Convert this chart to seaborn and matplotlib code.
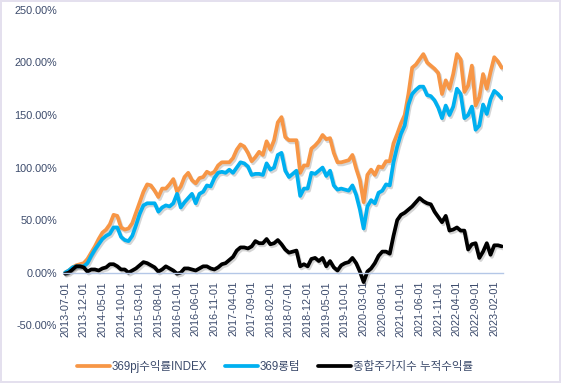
import matplotlib
matplotlib.use("Agg")
import matplotlib.pyplot as plt
import matplotlib.patheffects as pe
import seaborn as sns
import pandas as pd
import numpy as np

# monthly, 2013-07 .. 2023-04
dates = pd.date_range("2013-07-01", periods=118, freq="MS")

idx_369pj = [
    0, 2, 5, 7, 8, 9, 13, 19, 25, 32, 38, 41, 46, 55, 54, 43, 41, 42, 47, 57,
    67, 77, 84, 83, 78, 72, 80, 80, 84, 89, 77, 82, 91, 95, 88, 85, 90, 91, 96, 94,
    96, 102, 105, 105, 105, 109, 117, 122, 120, 114, 106, 110, 115, 112, 125, 117, 126, 143, 148, 129,
    126, 126, 126, 95, 102, 102, 118, 121, 125, 131, 127, 128, 114, 105, 105, 106, 107, 112, 99, 88,
    67, 93, 98, 93, 101, 100, 106, 106, 123, 132, 142, 150, 170, 195, 198, 203, 208, 200, 197, 194,
    190, 170, 183, 175, 189, 208, 203, 172, 178, 197, 159, 167, 189, 175, 191, 205, 201, 195,
]
longterm_369 = [
    0, 2, 5, 6, 6, 6, 9, 16, 22, 27, 32, 35, 37, 43, 43, 34, 31, 30, 35, 45,
    56, 64, 66, 66, 66, 58, 62, 64, 63, 66, 75, 62, 67, 71, 75, 66, 75, 77, 83, 82,
    90, 95, 96, 95, 98, 95, 100, 105, 104, 101, 93, 94, 94, 93, 104, 98, 100, 112, 114, 97,
    91, 94, 97, 73, 80, 80, 95, 94, 97, 100, 92, 97, 83, 79, 80, 79, 78, 83, 74, 60,
    42, 63, 69, 66, 76, 78, 84, 83, 105, 120, 132, 140, 160, 170, 174, 177, 177, 169, 168, 164,
    157, 147, 159, 150, 158, 175, 170, 147, 150, 158, 136, 140, 160, 151, 165, 173, 170, 166,
]
kospi_cum = [
    -1, 0, 3, 6, 6, 5, 1, 3, 3, 2, 4, 5, 8, 8, 6, 3, 3, 0, 2, 4,
    7, 10, 9, 7, 5, 1, 3, 6, 4, 2, -1, 0, 4, 4, 3, 2, 4, 6, 6, 4,
    3, 5, 8, 9, 12, 15, 21, 24, 24, 23, 25, 30, 28, 28, 32, 27, 28, 31, 27, 22,
    19, 20, 21, 6, 8, 6, 13, 14, 11, 14, 6, 11, 5, 2, 7, 9, 10, 14, 9, 1,
    -9, 1, 4, 9, 16, 20, 20, 18, 35, 50, 55, 57, 60, 63, 67, 71, 68, 66, 65, 58,
    53, 48, 54, 40, 41, 43, 40, 40, 22, 27, 28, 14, 20, 28, 17, 26, 26, 25,
]

series_names = ["369pj수익률INDEX", "369롱텀", "종합주가지수 누적수익률"]
series_colors = ["#F79646", "#00B0F0", "#000000"]
series_values = [idx_369pj, longterm_369, kospi_cum]

text_color = "#3B4A6B"
axis_color = "#B4C7E7"

sns.set_theme(style="white")
plt.rcParams["font.family"] = ["Liberation Sans", "Noto Sans CJK KR"]

df = pd.DataFrame({"t": np.arange(len(dates))})
for name, vals in zip(series_names, series_values):
    df[name] = vals
long_df = df.melt(id_vars="t", var_name="series", value_name="ret")

fig, ax = plt.subplots(figsize=(5.61, 3.83), dpi=100)
fig.subplots_adjust(left=0.112, right=0.897, top=0.974, bottom=0.151)

sns.lineplot(data=long_df, x="t", y="ret", hue="series", hue_order=series_names,
             palette=dict(zip(series_names, series_colors)), linewidth=2.7,
             legend=False, ax=ax)
for line in ax.get_lines():
    line.set_path_effects([pe.SimpleLineShadow(offset=(1, -1.5), alpha=0.18),
                           pe.Normal()])
    line.set_solid_joinstyle("round")

ax.set_xlim(-0.6, 117.4)
ax.set_ylim(-50, 250)
ax.set_yticks(np.arange(-50, 251, 50))
ax.set_yticklabels([f"{v:.2f}%" for v in np.arange(-50, 251, 50)])

tick_pos = np.arange(0, len(dates), 5)
ax.set_xticks(tick_pos)
ax.set_xticklabels([dates[i].strftime("%Y-%m-%d") for i in tick_pos])

for s in ["top", "right", "left"]:
    ax.spines[s].set_visible(False)
ax.spines["bottom"].set_position(("data", 0))
ax.spines["bottom"].set_color(axis_color)
ax.spines["bottom"].set_linewidth(1)

ax.tick_params(axis="x", direction="out", length=4, width=1, color=axis_color,
               labelsize=7.8, labelcolor=text_color, pad=2, labelrotation=90)
ax.tick_params(axis="y", length=0, labelsize=7.8, labelcolor=text_color, pad=4)
ax.set_xlabel("")
ax.set_ylabel("")
ax.grid(False)

handles = [plt.Line2D([], [], color=c, linewidth=2.7) for c in series_colors]
fig.legend(handles, series_names, loc="lower center", bbox_to_anchor=(0.49, 0.0),
           ncol=3, frameon=False, fontsize=8.3, labelcolor=text_color,
           handlelength=2.9, handletextpad=0.15, columnspacing=1.5)

fig.patch.set_edgecolor("#E4E0EE")
fig.patch.set_linewidth(1.5)
fig.savefig("out.png", dpi=100, edgecolor=fig.get_edgecolor())
